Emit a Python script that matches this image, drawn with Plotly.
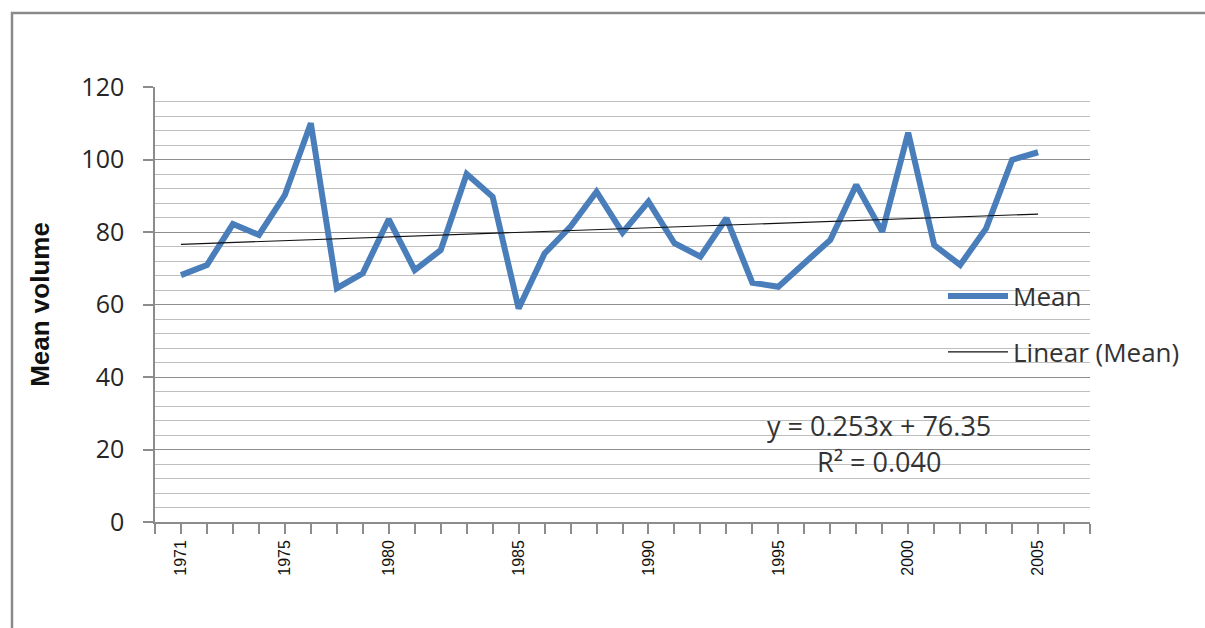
import plotly.graph_objects as go

# ---- data ----
years = [1971, 1972, 1973, 1974, 1975, 1976, 1977, 1978,
         1980, 1981, 1982, 1983, 1984, 1985, 1986, 1987, 1988, 1989, 1990,
         1991, 1992, 1993, 1994, 1995, 1996, 1997, 1998, 1999, 2000,
         2001, 2002, 2003, 2004, 2005]
mean_volume = [68.1, 70.9, 82.2, 79.2, 90.2, 110.0, 64.5, 68.6,
               83.5, 69.5, 75.0, 96.0, 89.7, 58.9, 74.1, 81.5, 91.1, 79.8, 88.4,
               76.9, 73.2, 83.8, 66.0, 64.9, 71.4, 77.8, 93.0, 80.1, 107.4,
               76.4, 70.9, 81.0, 99.9, 102.0]
label_years = [1971, 1975, 1980, 1985, 1990, 1995, 2000, 2005]
y_ticks = [0, 20, 40, 60, 80, 100, 120]
trend_slope = 0.253
trend_intercept = 76.35
r_squared = "0.040"

# category positions (Excel-style category axis)
x_pos = list(range(len(years)))
trend_y = [trend_slope * (i + 1) + trend_intercept for i in x_pos]
label_pos = [years.index(y) for y in label_years]

W, H = 1205, 628
L, R, T, B = 155, 115, 87, 106
pw, ph = W - L - R, H - T - B


def px_x(px):
    return (px - L) / pw


def px_y(py):
    return (H - B - py) / ph


fig = go.Figure()
fig.add_trace(go.Scatter(
    x=x_pos, y=mean_volume, mode="lines", name="Mean",
    line=dict(color="#4A7EBB", width=6), legend="legend"))
fig.add_trace(go.Scatter(
    x=x_pos, y=trend_y, mode="lines", name="Linear (Mean)",
    line=dict(color="#111111", width=1.2), legend="legend2"))

base_family = "Open Sans, Lato, sans-serif"
tick_font = dict(family=base_family, size=25, color="#262626")
legend_font = dict(family=base_family, size=26, color="#333333")
eq_font = dict(family=base_family, size=27, color="#333333")

fig.update_layout(
    width=W, height=H,
    margin=dict(l=L, r=R, t=T, b=B),
    paper_bgcolor="white", plot_bgcolor="white",
    xaxis=dict(
        range=[-1, len(years) + 1], showgrid=False, zeroline=False,
        showline=True, linecolor="#8C8C8C", linewidth=1.5,
        tickmode="array", tickvals=label_pos, ticktext=[str(y) for y in label_years],
        ticks="outside", ticklen=10, tickcolor="#8C8C8C", tickwidth=1.5,
        tickangle=-90,
        tickfont=dict(family="Liberation Sans, Arial, sans-serif", size=16, color="#111111"),
        minor=dict(dtick=1, tick0=-1, ticks="outside", ticklen=10,
                   tickcolor="#8C8C8C", tickwidth=1.5, showgrid=False),
    ),
    yaxis=dict(
        range=[0, 120], tickmode="array", tickvals=y_ticks,
        showgrid=True, gridcolor="#8E8E8E", gridwidth=1.2,
        zeroline=False, showline=True, linecolor="#8C8C8C", linewidth=1.5,
        ticks="outside", ticklen=10, tickcolor="#8C8C8C", tickwidth=1.5,
        ticklabelstandoff=14,
        tickfont=tick_font,
        minor=dict(dtick=4, tick0=0, showgrid=True, gridcolor="#BEBEBE", gridwidth=1.2,
                   ticks=""),
        title=dict(text="<b>Mean volume</b>", standoff=24,
                   font=dict(family="Liberation Sans, Arial, sans-serif", size=26, color="#111111")),
    ),
    legend=dict(x=px_x(943), y=px_y(296), xanchor="left", yanchor="middle",
                bgcolor="rgba(0,0,0,0)", font=legend_font, itemwidth=60),
    legend2=dict(x=px_x(943), y=px_y(352), xanchor="left", yanchor="middle",
                 bgcolor="rgba(0,0,0,0)", font=legend_font, itemwidth=60),
    showlegend=True,
    annotations=[
        dict(text=f"y = {trend_slope}x + {trend_intercept}", xref="paper", yref="paper",
             x=px_x(879), y=px_y(425), xanchor="center", yanchor="middle",
             showarrow=False, font=eq_font),
        dict(text=f"R² = {r_squared}", xref="paper", yref="paper",
             x=px_x(879), y=px_y(461), xanchor="center", yanchor="middle",
             showarrow=False, font=eq_font),
    ],
    shapes=[
        dict(type="path", xref="paper", yref="paper",
             path=f"M {px_x(12)},{px_y(640)} L {px_x(12)},{px_y(13)} L {px_x(1215)},{px_y(13)}",
             line=dict(color="#8A8A8A", width=2.5), layer="above"),
    ],
)

fig.write_html("out.html",
               config={"displayModeBar": False},
               post_script="document.body.style.margin='0';document.body.style.overflow='hidden';")
